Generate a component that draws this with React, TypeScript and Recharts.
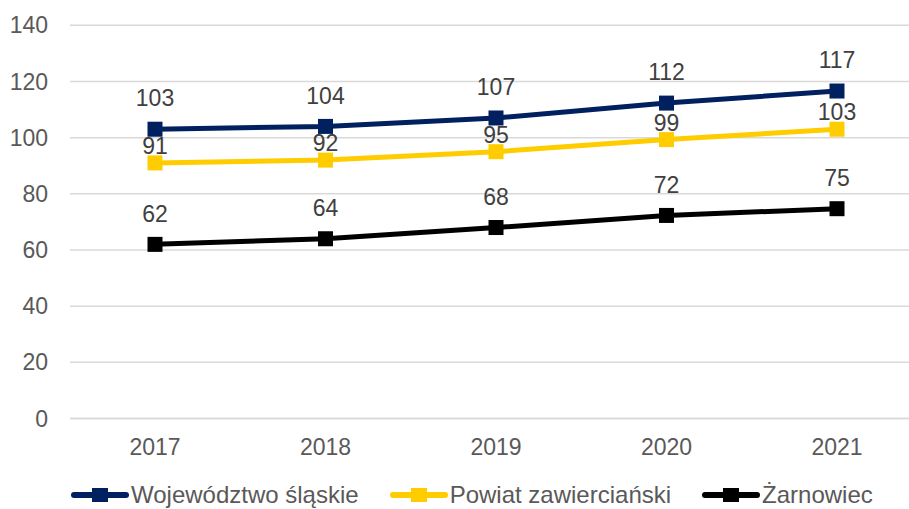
import React from 'react';
import { LineChart, Line, XAxis, YAxis, CartesianGrid, Legend, LabelList } from 'recharts';

const years = ['2017', '2018', '2019', '2020', '2021'];
const wojewodztwo = [103, 104, 107, 112.3, 116.6];
const powiat = [91, 92, 95, 99.3, 103];
const zarnowiec = [62, 64, 68, 72.3, 74.7];
const yTicks = [0, 20, 40, 60, 80, 100, 120, 140];

const seriesInfo = [
  { key: 'woj', name: 'Województwo śląskie', color: '#002060', labelOffset: 31 },
  { key: 'pow', name: 'Powiat zawierciański', color: '#FFCC00', labelOffset: 17 },
  { key: 'zar', name: 'Żarnowiec', color: '#000000', labelOffset: 31 },
];

const data = years.map((y, i) => ({
  year: y,
  woj: wojewodztwo[i],
  pow: powiat[i],
  zar: zarnowiec[i],
}));

const FONT = '"Liberation Sans", Arial, sans-serif';

const SquareDot = (color: string) => (props: any) => {
  const { cx, cy, index } = props;
  if (cx == null || cy == null) return <g key={index} />;
  return <rect key={index} x={cx - 7.5} y={cy - 7.5} width={15} height={15} fill={color} />;
};

const makeLabel = (offset: number) => (props: any) => {
  const { x, y, value, index } = props;
  return (
    <text
      key={index}
      x={x}
      y={y - offset}
      dy="0.355em"
      textAnchor="middle"
      fill="#404040"
      fontSize={23}
      fontFamily={FONT}
    >
      {Math.round(Number(value))}
    </text>
  );
};

const LegendContent = () => (
  <div style={{ display: 'flex', alignItems: 'center', height: 24, paddingLeft: 71, fontFamily: FONT, fontSize: 24, lineHeight: '24px', color: '#595959' }}>
    {seriesInfo.map((s, i) => (
      <div key={s.key} style={{ display: 'flex', alignItems: 'center', marginRight: i < seriesInfo.length - 1 ? 31 : 0 }}>
        <svg width={58} height={16} style={{ display: 'block' }}>
          <line x1={3} y1={8} x2={55} y2={8} stroke={s.color} strokeWidth={6} strokeLinecap="round" />
          <rect x={21} y={1} width={16} height={14} fill={s.color} />
        </svg>
        <span style={{ marginLeft: 2, whiteSpace: 'nowrap' }}>{s.name}</span>
      </div>
    ))}
  </div>
);

export default function App() {
  return (
    <div style={{ position: 'absolute', left: 0, top: 0, width: 909, height: 509, overflow: 'hidden', background: '#fff' }}>
      <LineChart
        width={925}
        height={509}
        data={data}
        margin={{ top: 25.3, right: 3, bottom: 60.5, left: 0 }}
      >
        <CartesianGrid vertical={false} stroke="#d9d9d9" strokeWidth={1.5} />
        <XAxis
          dataKey="year"
          height={30}
          padding={{ left: 85, right: 85 }}
          tickLine={false}
          axisLine={{ stroke: '#d9d9d9', strokeWidth: 1.5 }}
          tickSize={6}
          tickMargin={14}
          tick={{ fill: '#595959', fontSize: 23, fontFamily: FONT }}
        />
        <YAxis
          width={70}
          domain={[0, 140]}
          ticks={yTicks}
          axisLine={false}
          tickLine={false}
          tickSize={6}
          tickMargin={16}
          tick={{ fill: '#595959', fontSize: 23, fontFamily: FONT }}
        />
        <Legend
          layout="horizontal"
          verticalAlign="middle"
          align="center"
          content={<LegendContent />}
          wrapperStyle={{ top: 483, left: 0, width: 909, height: 24 }}
        />
        {seriesInfo.map((s) => (
          <Line
            key={s.key}
            type="linear"
            dataKey={s.key}
            name={s.name}
            stroke={s.color}
            strokeWidth={5}
            dot={SquareDot(s.color)}
            activeDot={false}
            isAnimationActive={false}
          >
            <LabelList dataKey={s.key} content={makeLabel(s.labelOffset)} />
          </Line>
        ))}
      </LineChart>
    </div>
  );
}
